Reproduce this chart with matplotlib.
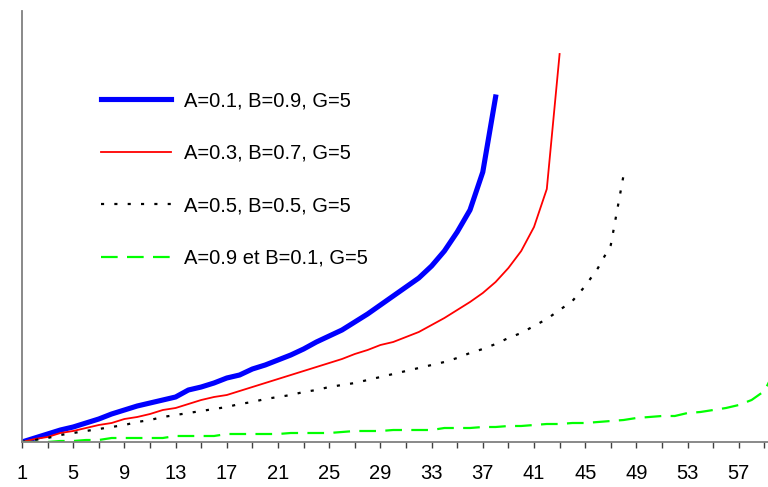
import matplotlib

matplotlib.use("Agg")
import matplotlib.pyplot as plt
import numpy as np

plt.rcParams["font.family"] = ["Liberation Sans", "DejaVu Sans"]

# values (arbitrary units, baseline = 0)
blue = [0, 4, 8, 12, 15, 19, 23, 28, 32, 36, 39, 42, 45, 52, 55, 59, 64, 67,
        73, 77, 82, 87, 93, 100, 106, 112, 120, 128, 137, 146, 155, 164, 176,
        191, 210, 232, 270, 345]
red = [0, 3, 5, 9, 11, 14, 17, 19, 23, 25, 28, 32, 34, 38, 42, 45, 47, 51, 55,
       59, 63, 67, 71, 75, 79, 83, 88, 92, 97, 100, 105, 110, 117, 124, 132,
       140, 149, 160, 174, 191, 215, 253, 388]
black = [0, 2, 4, 7, 9, 11, 13, 15, 17, 20, 22, 25, 27, 29, 31, 33, 35, 38, 40,
         43, 45, 47, 50, 52, 55, 57, 59, 62, 65, 68, 71, 74, 77, 80, 84, 89,
         93, 98, 104, 109, 116, 123, 132, 141, 156, 174, 197, 267]
green = [0, 0, 0, 1, 1, 2, 2, 4, 4, 4, 4, 4, 6, 6, 6, 6, 8, 8, 8, 8, 8, 9, 9,
         9, 9, 10, 11, 11, 11, 12, 12, 12, 12, 14, 14, 14, 15, 15, 16, 16, 17,
         18, 18, 19, 19, 20, 21, 22, 24, 25, 26, 26, 29, 30, 32, 34, 37, 42,
         51, 76]

labels = [
    "A=0.1, B=0.9, G=5",
    "A=0.3, B=0.7, G=5",
    "A=0.5, B=0.5, G=5",
    "A=0.9 et B=0.1, G=5",
]

W, H = 768, 487
fig = plt.figure(figsize=(W / 100, H / 100), dpi=100)
# x=1 at px 22, x=60 at px ~777 (the right end is cut off by the figure)
ax = fig.add_axes([22 / W, 1 - 442 / H, (777.2 - 22) / W, (442 - 11) / H])

ax.plot(np.arange(1, len(blue) + 1), blue, color="#0000ff", lw=3.7,
        solid_joinstyle="round", label=labels[0])
ax.plot(np.arange(1, len(red) + 1), red, color="#ff0000", lw=1.3,
        label=labels[1])
ax.plot(np.arange(1, len(black) + 1), black, color="black", lw=1.6,
        ls=(0, (1.4, 4.6)), label=labels[2])
ax.plot(np.arange(1, len(green) + 1), green, color="#00ff00", lw=1.6,
        ls=(0, (7.5, 4.2)), label=labels[3])

ax.set_xlim(1, 60)
ax.set_ylim(0, 431)

ticks = np.arange(1, 61, 2)
ax.set_xticks(ticks)
ax.set_xticklabels([str(t) if (t - 1) % 4 == 0 else "" for t in ticks])
ax.tick_params(axis="x", direction="out", length=4, width=1,
               color="#404040", labelsize=14.5, pad=12)
ax.set_yticks([])

for side in ("top", "right"):
    ax.spines[side].set_visible(False)
for side in ("left", "bottom"):
    ax.spines[side].set_color("#808080")
    ax.spines[side].set_linewidth(1.3)

ax.legend(
    loc="upper left",
    bbox_to_anchor=(101 / W, 1 - 91.5 / H),
    bbox_transform=fig.transFigure,
    frameon=False,
    fontsize=14.5,
    handlelength=3.5,
    handletextpad=0.6,
    labelspacing=1.66,
    borderpad=0,
    borderaxespad=0,
)

fig.savefig("out.png", dpi=100)
